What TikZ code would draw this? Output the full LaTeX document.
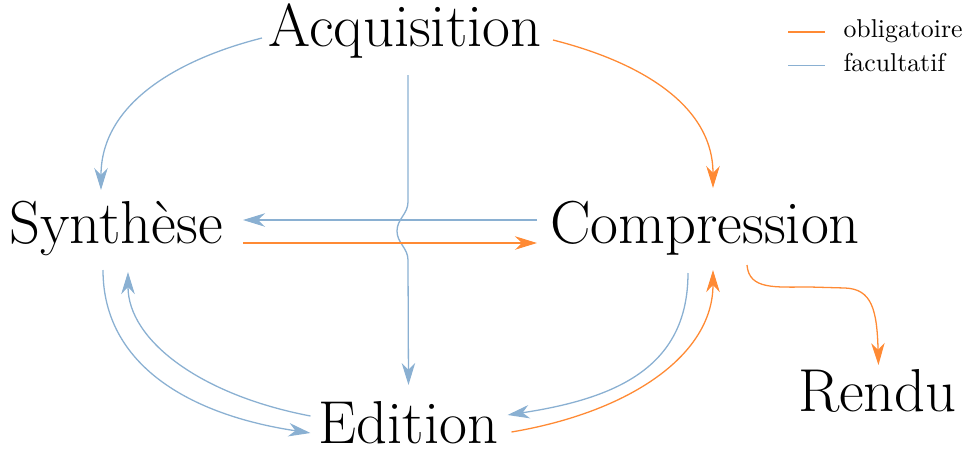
\documentclass[tikz,border=0pt]{standalone}
\usetikzlibrary{arrows.meta}
\definecolor{oblig}{RGB}{255,138,52}
\definecolor{facul}{RGB}{138,176,210}
\begin{document}
\begin{tikzpicture}[x=0.3876pt,y=-0.3876pt,
  lab/.style={inner sep=0pt,anchor=base,font=\fontsize{23.5}{28}\selectfont},
  leg/.style={inner sep=0pt,anchor=base west,font=\normalsize},
  tip/.style={-{Stealth[length=8.5pt,width=5.2pt,inset=2.6pt]}},
  ob/.style={draw=oblig,line width=0.5pt},
  fa/.style={draw=facul,line width=0.5pt},
  obarrow/.style={ob,tip},
  faarrow/.style={fa,tip}]
\useasboundingbox (0,0) rectangle (974,448);

\node[lab] (acq) at (405,46) {Acquisition};
\node[lab] (syn) at (116,243) {Synthèse};
\node[lab] (com) at (705,243) {Compression};
\node[lab] (edi) at (408.5,443) {Edition};
\node[lab] (ren) at (877.5,411) {Rendu};

\node[leg] (lob) at (843,37.5) {obligatoire};
\node[leg] (lfa) at (843,71) {facultatif};
\draw[ob] ([shift={(-55,-5.5)}]lob.base west) -- ([shift={(-18,-5.5)}]lob.base west);
\draw[fa] ([shift={(-55,-5.5)}]lfa.base west) -- ([shift={(-18,-5.5)}]lfa.base west);

% Acquisition -> Synthese
\draw[faarrow] ([shift={(-143,-8)}]acq.base) .. controls (175,60) and (101,105) .. ([shift={(-15,-53)}]syn.base);
% Acquisition -> Compression
\draw[obarrow] ([shift={(148,-6)}]acq.base) .. controls (640,62) and (713,105) .. ([shift={(8,-55)}]com.base);
% Acquisition -> Edition (with jump)
\draw[faarrow] ([shift={(3,29)}]acq.base) -- (408,202)
  .. controls (408,214) and (397,219) .. (397,231)
  .. controls (397,243) and (408,248) .. (408,260)
  -- ([shift={(0,-58)}]edi.base);
% Compression -> Synthese
\draw[faarrow] ([shift={(-168,-23)}]com.base) -- ([shift={(127,-23)}]syn.base);
% Synthese -> Compression
\draw[obarrow] ([shift={(127,0)}]syn.base) -- ([shift={(-168,0)}]com.base);
% Synthese -> Edition
\draw[faarrow] ([shift={(-13,27)}]syn.base) .. controls (103,365) and (190,415) .. ([shift={(-98,-10)}]edi.base);
% Edition -> Synthese
\draw[faarrow] ([shift={(-98,-27)}]edi.base) .. controls (200,395) and (128,340) .. ([shift={(12,29)}]syn.base);
% Compression -> Edition
\draw[faarrow] ([shift={(-17,30)}]com.base) .. controls (688,365) and (620,398) .. ([shift={(99,-28)}]edi.base);
% Edition -> Compression
\draw[obarrow] ([shift={(103,-11)}]edi.base) .. controls (630,412) and (713,355) .. ([shift={(8,27)}]com.base);
% Compression -> Rendu
\draw[obarrow] ([shift={(42,22)}]com.base) .. controls (749,290) and (775,287) .. (810,287)
  -- (845,288) .. controls (872,289) and (877,310) .. ([shift={(1,-46)}]ren.base);
\end{tikzpicture}
\end{document}
